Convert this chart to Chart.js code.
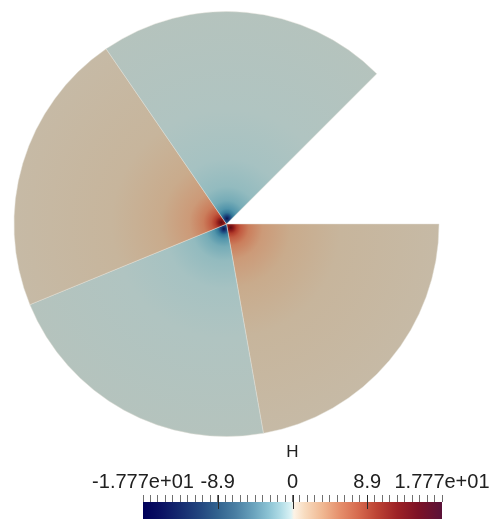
<!DOCTYPE html>
<html>
<head>
<meta charset="utf-8">
<script src="https://cdn.jsdelivr.net/npm/chart.js@4.4.1/dist/chart.umd.min.js"></script>
<style>
  html, body { margin: 0; padding: 0; background: #ffffff; width: 492px; height: 523px; overflow: hidden; }
  #field { position: absolute; left: 0; top: 0; }
  #legend { position: absolute; left: 0; top: 440px; }
</style>
</head>
<body>
<canvas id="field" width="492" height="445"></canvas>
<canvas id="legend" width="492" height="83"></canvas>
<script>
// Wedge domain split into four sectors, listed clockwise from the straight edge at 3 o'clock.
const sectorNames = ['east', 'south', 'west', 'north'];
// Angular extent of each sector, degrees (the missing 45° notch closes the circle).
const sectorSpanDeg = [80, 77.7, 77.8, 79.5];
// Value of H away from the corner in each sector.
const sectorFarH = [1.2, -1.2, 1.2, -1.2];

// Colour legend for H.
const hRange = [-17.77, 17.77];
const tickValues = [-17.77, -8.885, 0, 8.885, 17.77];
const tickLabels = ['-1.777e+01', '-8.9', '0', '8.9', '1.777e+01'];
const minorDivisions = 40;

// Diverging cool-to-warm colour map (position 0..1 along the H range).
const coolWarm = [
  [0.00, '#000059'], [0.06, '#0a1163'], [0.12, '#14296f'], [0.19, '#22467f'],
  [0.25, '#32638f'], [0.31, '#4a7fa3'], [0.37, '#6aa3bd'], [0.42, '#8cc3d4'],
  [0.46, '#b0dce6'], [0.495, '#daf2f5'], [0.505, '#fdf3e6'], [0.54, '#f8dcc0'],
  [0.60, '#f0b892'], [0.66, '#e58e6b'], [0.72, '#d66a4e'], [0.78, '#bd4434'],
  [0.85, '#9d2226'], [0.92, '#7d1226'], [1.00, '#5a1238']
];

// Shaded colour against distance (px) from the corner singularity.
const negRamp = [[0, '#0a1550'], [3, '#1c467e'], [6, '#347a99'], [10, '#5295ab'], [18, '#76acb7'],
                 [32, '#93bbbf'], [60, '#a6c2c2'], [110, '#b0c4c1'], [213, '#b5c3bd']];
const posRamp = [[0, '#5a0c12'], [3, '#8c1a1a'], [6, '#b13b2a'], [10, '#c25a40'], [18, '#cb7e5c'],
                 [32, '#cc9a78'], [60, '#c9ab8c'], [110, '#c7b59c'], [213, '#c6baa6']];

const FONT = "'Liberation Sans', Arial, sans-serif";
const ROTATION = 90; // first sector starts at 3 o'clock

function sectorFill(ctx) {
  const chart = ctx.chart;
  const area = chart.chartArea;
  const i = ctx.dataIndex;
  const ramp = sectorFarH[i] < 0 ? negRamp : posRamp;
  if (!area) return ramp[ramp.length - 1][1];
  const ctrl = chart.getDatasetMeta(0).controller;
  const cx = (area.left + area.right) / 2 + (ctrl.offsetX || 0);
  const cy = (area.top + area.bottom) / 2 + (ctrl.offsetY || 0);
  const R = ctrl.outerRadius || Math.min(area.width, area.height) / 2;
  let cum = 0;
  for (let k = 0; k < i; k++) cum += sectorSpanDeg[k];
  const mid = (ROTATION - 90 + cum + sectorSpanDeg[i] / 2) * Math.PI / 180;
  const gx = cx + 5.5 * Math.cos(mid);
  const gy = cy + 5.5 * Math.sin(mid);
  const reach = R + 10;
  const g = chart.ctx.createRadialGradient(gx, gy, 0, gx, gy, reach);
  ramp.forEach(([d, c]) => g.addColorStop(Math.min(d / 213 * R / reach, 1), c));
  return g;
}

new Chart(document.getElementById('field'), {
  type: 'pie',
  data: {
    labels: sectorNames,
    datasets: [{
      data: sectorSpanDeg,
      backgroundColor: sectorFill,
      borderColor: 'rgba(226,224,214,0.45)',
      borderWidth: 1
    }]
  },
  options: {
    responsive: false,
    animation: false,
    events: [],
    rotation: ROTATION,
    circumference: 315,
    layout: { padding: { left: 13, right: 52, top: 11, bottom: 8 } },
    plugins: { legend: { display: false }, tooltip: { enabled: false } }
  }
});

function barFill(ctx) {
  const chart = ctx.chart;
  const x = chart.scales.x;
  if (!chart.chartArea || !x) return '#cccccc';
  const g = chart.ctx.createLinearGradient(x.getPixelForValue(hRange[0]), 0, x.getPixelForValue(hRange[1]), 0);
  coolWarm.forEach(([t, c]) => g.addColorStop(t, c));
  return g;
}

// Longer marks at the interior labelled ticks, reaching into the colour strip.
const majorTicks = {
  id: 'majorTicks',
  afterDatasetsDraw(chart) {
    const { ctx, chartArea, scales: { x } } = chart;
    ctx.save();
    ctx.strokeStyle = '#2a2a2a';
    ctx.lineWidth = 1;
    tickValues.slice(1, -1).forEach(v => {
      const px = Math.round(x.getPixelForValue(v)) + 0.5;
      ctx.beginPath();
      ctx.moveTo(px, chartArea.top - 7);
      ctx.lineTo(px, chartArea.top + 7);
      ctx.stroke();
    });
    ctx.restore();
  }
};

new Chart(document.getElementById('legend'), {
  type: 'bar',
  data: {
    labels: ['H'],
    datasets: [{
      data: [hRange],
      backgroundColor: barFill,
      borderWidth: 0,
      barPercentage: 1,
      categoryPercentage: 1
    }]
  },
  options: {
    indexAxis: 'y',
    responsive: false,
    animation: false,
    events: [],
    layout: { padding: { left: 143, right: 50, top: 0, bottom: 4 } },
    plugins: {
      legend: { display: false },
      tooltip: { enabled: false },
      title: {
        display: true,
        text: 'H',
        color: '#202020',
        font: { family: FONT, size: 17, weight: 'normal' },
        padding: { top: 2, bottom: 6.6 }
      }
    },
    scales: {
      x: {
        type: 'linear',
        position: 'top',
        min: hRange[0],
        max: hRange[1],
        afterBuildTicks: (scale) => {
          const step = (hRange[1] - hRange[0]) / minorDivisions;
          const ticks = [];
          for (let k = 0; k <= minorDivisions; k++) ticks.push({ value: hRange[0] + k * step });
          scale.ticks = ticks;
        },
        ticks: {
          autoSkip: false,
          maxRotation: 0,
          padding: 1,
          color: '#202020',
          font: { family: FONT, size: 20 },
          callback: (value) => {
            const j = tickValues.findIndex(t => Math.abs(t - value) < 1e-6);
            return j >= 0 ? tickLabels[j] : '';
          }
        },
        grid: { drawOnChartArea: false, drawTicks: true, tickLength: 7, color: '#707070', lineWidth: 1 },
        border: { display: false }
      },
      y: { display: false }
    }
  },
  plugins: [majorTicks]
});
</script>
</body>
</html>
